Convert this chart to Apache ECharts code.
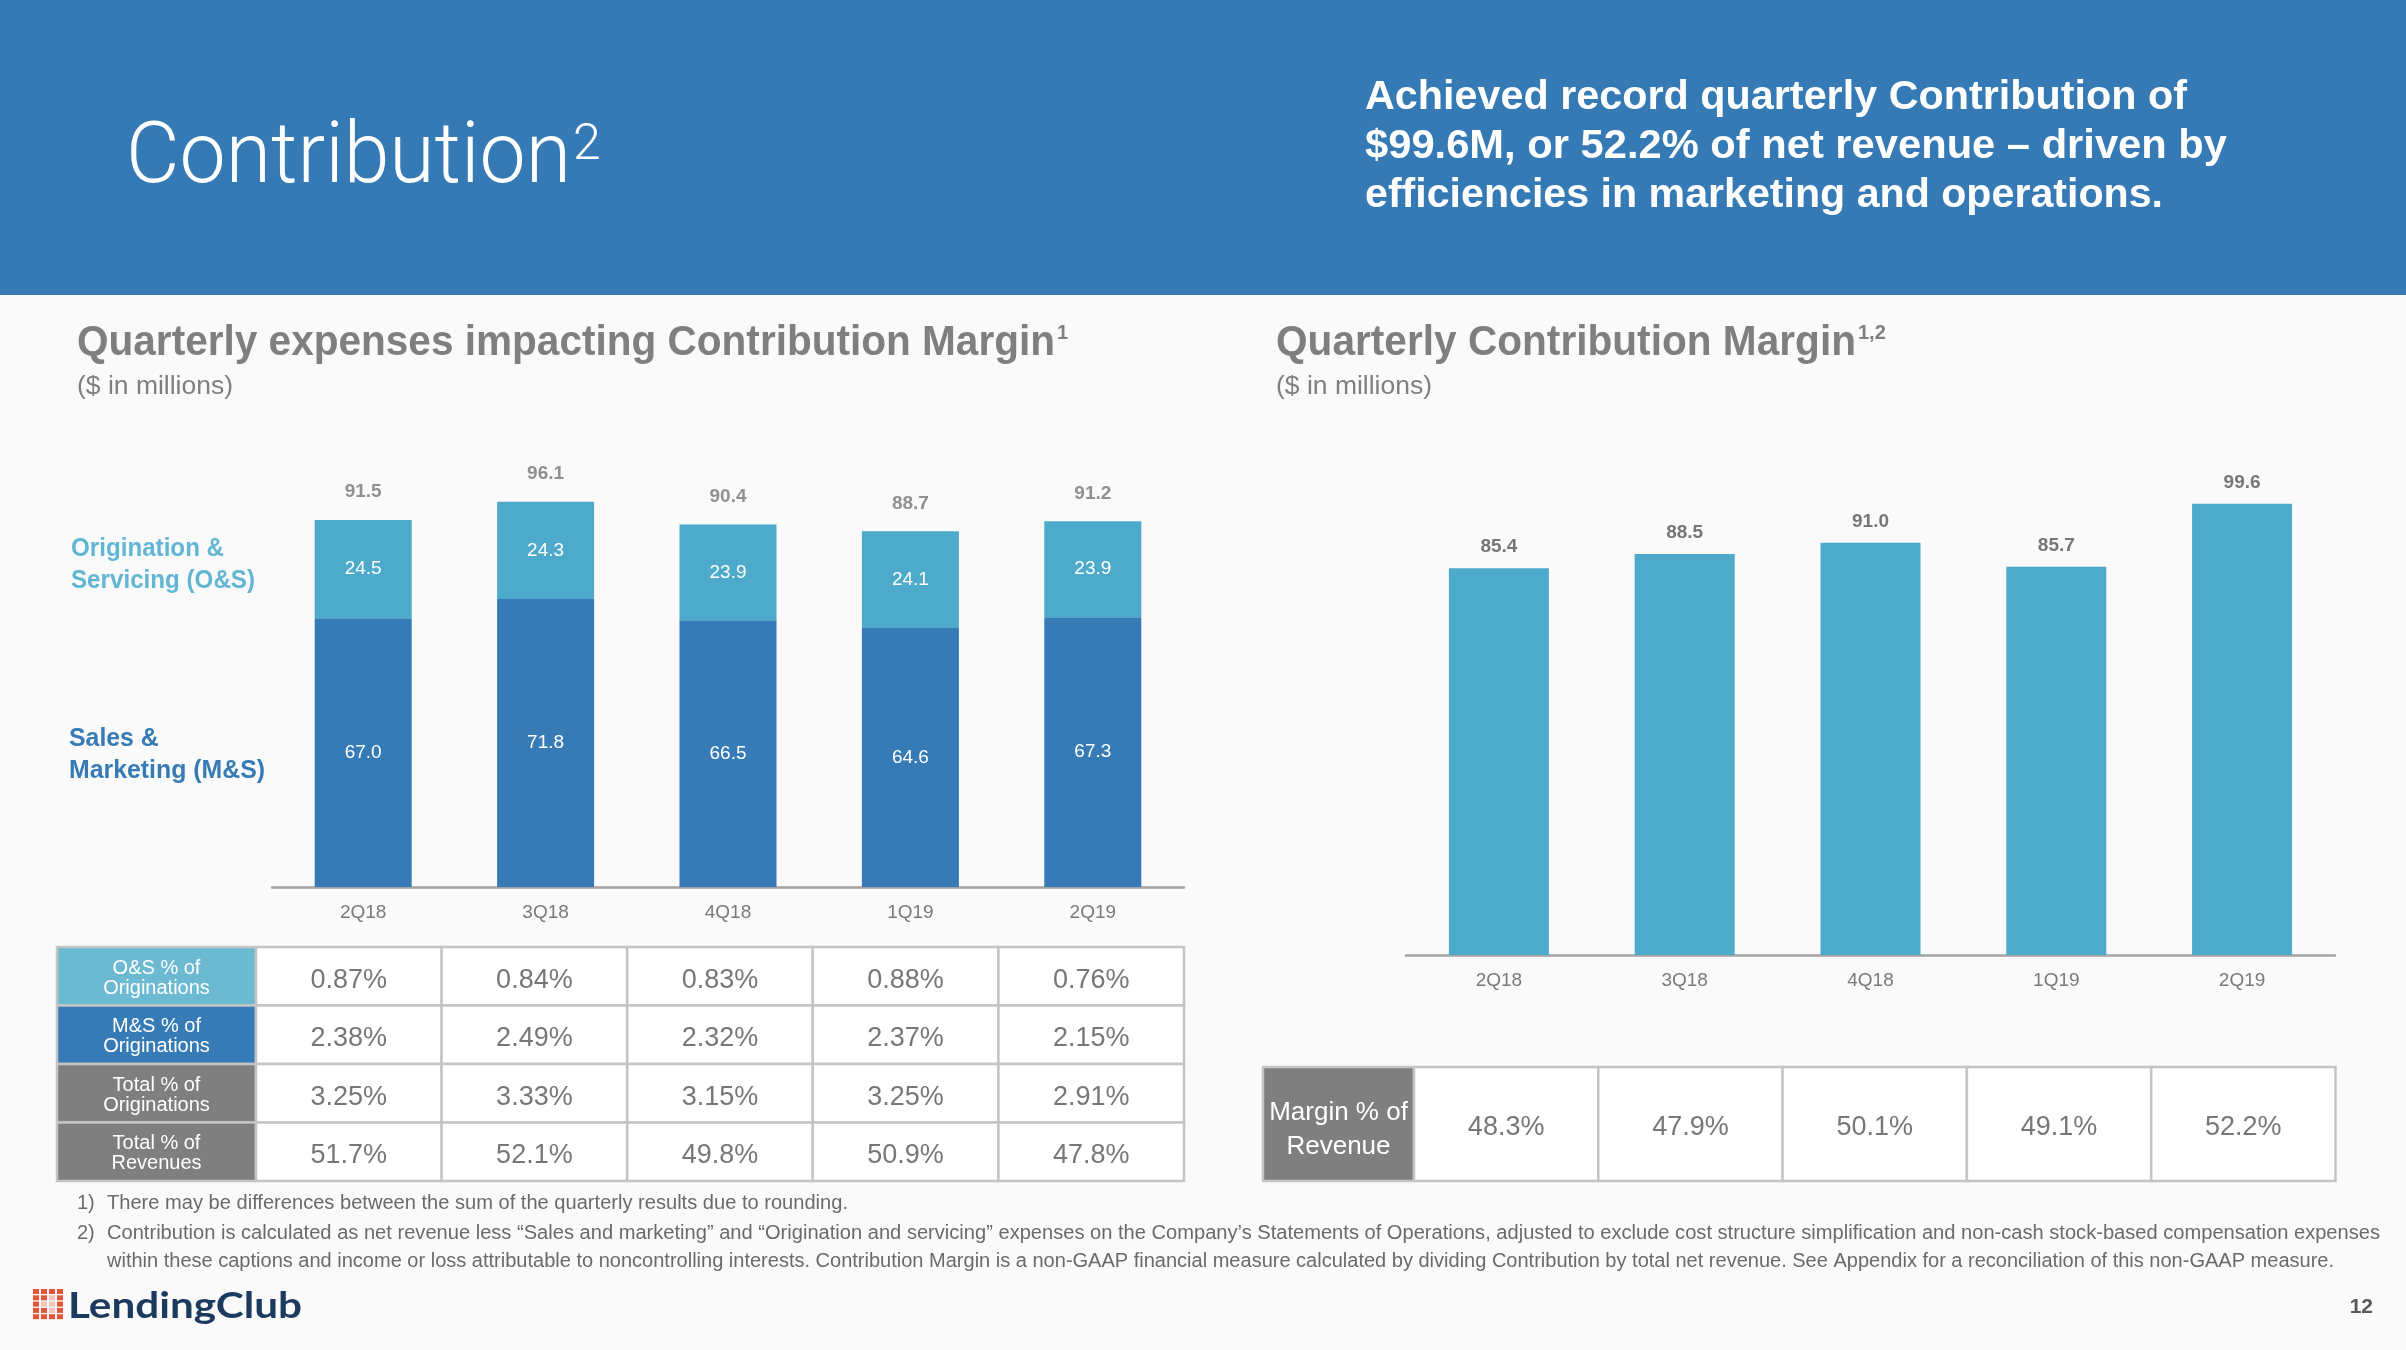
<!DOCTYPE html>
<html>
<head>
<meta charset="utf-8">
<title>Contribution</title>
<script src="https://cdn.jsdelivr.net/npm/echarts@6/dist/echarts.min.js"></script>
<style>
html, body { margin: 0; padding: 0; background: #fafafa; }
#chart { width: 2406px; height: 1350px; }
</style>
</head>
<body>
<div id="chart"></div>
<script>
var quarters = ['2Q18', '3Q18', '4Q18', '1Q19', '2Q19'];
var salesMarketing = [67.0, 71.8, 66.5, 64.6, 67.3];
var originationServicing = [24.5, 24.3, 23.9, 24.1, 23.9];
var expenseTotals = [91.5, 96.1, 90.4, 88.7, 91.2];
var contribution = [85.4, 88.5, 91.0, 85.7, 99.6];

var osPctOriginations = [0.87, 0.84, 0.83, 0.88, 0.76];
var msPctOriginations = [2.38, 2.49, 2.32, 2.37, 2.15];
var totalPctOriginations = [3.25, 3.33, 3.15, 3.25, 2.91];
var totalPctRevenues = [51.7, 52.1, 49.8, 50.9, 47.8];
var marginPctRevenue = [48.3, 47.9, 50.1, 49.1, 52.2];

var BLUE = '#367bb5', TEAL = '#4eaacb', LIGHT_TEAL = '#6cb9d2', GRAY = '#7f7f7f';
var SANS = '"Liberation Sans", Arial, sans-serif';

var measureCtx = document.createElement('canvas').getContext('2d');
function squeeze(str, font, width) {
	measureCtx.font = font;
	return width / measureCtx.measureText(str).width;
}

function text(str, x, y, font, color, align, scale) {
	return {
		type: 'text', x: x, y: y, scaleX: scale || 1, silent: true,
		style: { text: str, font: font, fill: color, align: align || 'left', verticalAlign: 'middle' }
	};
}

// the slide font is tightly tracked, so long lines are squeezed to the width they had
function fitText(str, x, y, font, color, width) {
	return text(str, x, y, font, color, 'left', squeeze(str, font, width));
}

function pct(digits) {
	return function(v) { return v.toFixed(digits) + '%'; };
}

// a table drawn cell by cell: one coloured header cell then one cell per quarter
function table(x0, y0, headW, colW, rowH, headFont, lineGap, headShift, valueFont, rows) {
	var els = [];
	rows.forEach(function(row, r) {
		var y = y0 + r * rowH;
		els.push({
			type: 'rect', shape: { x: x0, y: y, width: headW, height: rowH },
			style: { fill: row.fill, stroke: '#c4c4c4', lineWidth: 2.5 }
		});
		var cy = y + rowH / 2 + headShift - (row.label.length - 1) * lineGap / 2;
		row.label.forEach(function(line, i) {
			els.push(text(line, x0 + headW / 2, cy + i * lineGap, headFont, '#fff', 'center'));
		});
		row.values.forEach(function(v, c) {
			var x = x0 + headW + c * colW;
			els.push({
				type: 'rect', shape: { x: x, y: y, width: colW, height: rowH },
				style: { fill: '#fff', stroke: '#c4c4c4', lineWidth: 2.5 }
			});
			els.push(text(row.format(v), x + colW / 2, y + rowH / 2 + 4, valueFont, '#777', 'center'));
		});
	});
	return els;
}

var graphics = [];
graphics.push({ type: 'rect', z: -1, shape: { x: 0, y: 0, width: 2406, height: 295 }, style: { fill: '#357ab5' } });

var titleFont = '300 86px Roboto, ' + SANS;
graphics.push(fitText('Contribution', 126, 160, titleFont, '#fff', 445));
graphics.push(text('2', 573, 146, '300 50px Roboto, ' + SANS, '#fff'));

var headlineFont = 'bold 41px ' + SANS;
graphics.push(fitText('Achieved record quarterly Contribution of', 1365, 98, headlineFont, '#fff', 822));
graphics.push(fitText('$99.6M, or 52.2% of net revenue \u2013 driven by', 1365, 147, headlineFont, '#fff', 862));
graphics.push(fitText('efficiencies in marketing and operations.', 1365, 196, headlineFont, '#fff', 798));

var sectionFont = 'bold 42px ' + SANS;
graphics.push(fitText('Quarterly expenses impacting Contribution Margin', 77, 343, sectionFont, GRAY, 978));
graphics.push(text('1', 1057, 333, 'bold 20px ' + SANS, GRAY));
graphics.push(fitText('Quarterly Contribution Margin', 1276, 343, sectionFont, GRAY, 580));
graphics.push(text('1,2', 1858, 333, 'bold 20px ' + SANS, GRAY));
graphics.push(fitText('($ in millions)', 77, 387, '26px ' + SANS, GRAY, 156));
graphics.push(fitText('($ in millions)', 1276, 387, '26px ' + SANS, GRAY, 156));

var sideFont = 'bold 25px ' + SANS;
var osScale = squeeze('Servicing (O&S)', sideFont, 184);
graphics.push(text('Origination &', 71, 549, sideFont, '#62b6d4', 'left', osScale));
graphics.push(text('Servicing (O&S)', 71, 581, sideFont, '#62b6d4', 'left', osScale));
var msScale = squeeze('Marketing (M&S)', sideFont, 196);
graphics.push(text('Sales &', 69, 739, sideFont, BLUE, 'left', msScale));
graphics.push(text('Marketing (M&S)', 69, 771, sideFont, BLUE, 'left', msScale));

graphics = graphics.concat(table(57, 947, 199, 185.6, 58.5, '20px ' + SANS, 20, 2, '27px ' + SANS, [
	{ label: ['O&S % of', 'Originations'], fill: LIGHT_TEAL, values: osPctOriginations, format: pct(2) },
	{ label: ['M&S % of', 'Originations'], fill: BLUE, values: msPctOriginations, format: pct(2) },
	{ label: ['Total % of', 'Originations'], fill: GRAY, values: totalPctOriginations, format: pct(2) },
	{ label: ['Total % of', 'Revenues'], fill: GRAY, values: totalPctRevenues, format: pct(1) }
]));
graphics = graphics.concat(table(1263, 1067, 151, 184.3, 114, '26px ' + SANS, 34, 6, '27px ' + SANS, [
	{ label: ['Margin % of', 'Revenue'], fill: GRAY, values: marginPctRevenue, format: pct(1) }
]));

var noteFont = '20px ' + SANS, noteColor = '#6a6a6a';
graphics.push(text('1)', 77, 1203, noteFont, noteColor));
graphics.push(fitText('There may be differences between the sum of the quarterly results due to rounding.', 107, 1203, noteFont, noteColor, 741));
graphics.push(text('2)', 77, 1233, noteFont, noteColor));
graphics.push(fitText('Contribution is calculated as net revenue less \u201cSales and marketing\u201d and \u201cOrigination and servicing\u201d expenses on the Company\u2019s Statements of Operations, adjusted to exclude cost structure simplification and non-cash stock-based compensation expenses', 107, 1233, noteFont, noteColor, 2273));
graphics.push(fitText('within these captions and income or loss attributable to noncontrolling interests. Contribution Margin is a non-GAAP financial measure calculated by dividing Contribution by total net revenue. See Appendix for a reconciliation of this non-GAAP measure.', 107, 1261, noteFont, noteColor, 2227));

// LendingClub mark: a small grid of red squares
var gaps = { '1,2': true, '2,1': true, '2,2': true, '3,2': true };
for (var r = 0; r < 5; r++) {
	for (var c = 0; c < 4; c++) {
		graphics.push({
			type: 'rect', shape: { x: 33 + c * 8, y: 1289 + r * 6.3, width: 6, height: 5 },
			style: { fill: gaps[r + ',' + c] ? '#f2c3b6' : '#e2553a' }
		});
	}
}
graphics.push(fitText('LendingClub', 68, 1306, 'bold 36px Lato, ' + SANS, '#1c3a5e', 234));
graphics.push(text('12', 2373, 1307, 'bold 21px ' + SANS, '#595959', 'right'));

var categoryAxis = function(grid) {
	return {
		type: 'category', gridIndex: grid, data: quarters,
		axisLine: { lineStyle: { color: '#a3a3a3', width: 2.5 } },
		axisTick: { show: false },
		axisLabel: { color: '#7a7a7a', fontSize: 19, fontFamily: SANS, margin: 16 }
	};
};

var option = {
	animation: false,
	backgroundColor: '#fafafa',
	grid: [
		{ left: 272, top: 486, width: 912, height: 401 },
		{ left: 1406, top: 502, width: 929, height: 453 }
	],
	xAxis: [categoryAxis(0), categoryAxis(1)],
	yAxis: [
		{ type: 'value', gridIndex: 0, min: 0, max: 100, show: false },
		{ type: 'value', gridIndex: 1, min: 0, max: 100, show: false }
	],
	series: [
		{
			name: 'Sales & Marketing (M&S)', type: 'bar', stack: 'expenses', data: salesMarketing,
			barWidth: 97, itemStyle: { color: BLUE },
			label: { show: true, position: 'inside', color: '#fff', fontSize: 19, fontFamily: SANS, formatter: function(p) { return p.value.toFixed(1); } }
		},
		{
			name: 'Origination & Servicing (O&S)', type: 'bar', stack: 'expenses', data: originationServicing,
			barWidth: 97, itemStyle: { color: TEAL },
			label: { show: true, position: 'inside', color: '#fff', fontSize: 19, fontFamily: SANS, formatter: function(p) { return p.value.toFixed(1); } }
		},
		{
			name: 'Total', type: 'scatter', data: expenseTotals, symbolSize: 1,
			itemStyle: { color: 'rgba(0,0,0,0)' },
			label: { show: true, position: 'top', distance: 18, color: '#767676', fontSize: 19, fontWeight: 'bold', fontFamily: SANS, formatter: function(p) { return p.value.toFixed(1); } }
		},
		{
			name: 'Contribution', type: 'bar', xAxisIndex: 1, yAxisIndex: 1, data: contribution,
			barWidth: 100, itemStyle: { color: TEAL },
			label: { show: true, position: 'top', distance: 12, color: '#767676', fontSize: 19, fontWeight: 'bold', fontFamily: SANS, formatter: function(p) { return p.value.toFixed(1); } }
		}
	],
	graphic: { elements: graphics }
};

var chart = echarts.init(document.getElementById('chart'));
chart.setOption(option);
</script>
</body>
</html>
